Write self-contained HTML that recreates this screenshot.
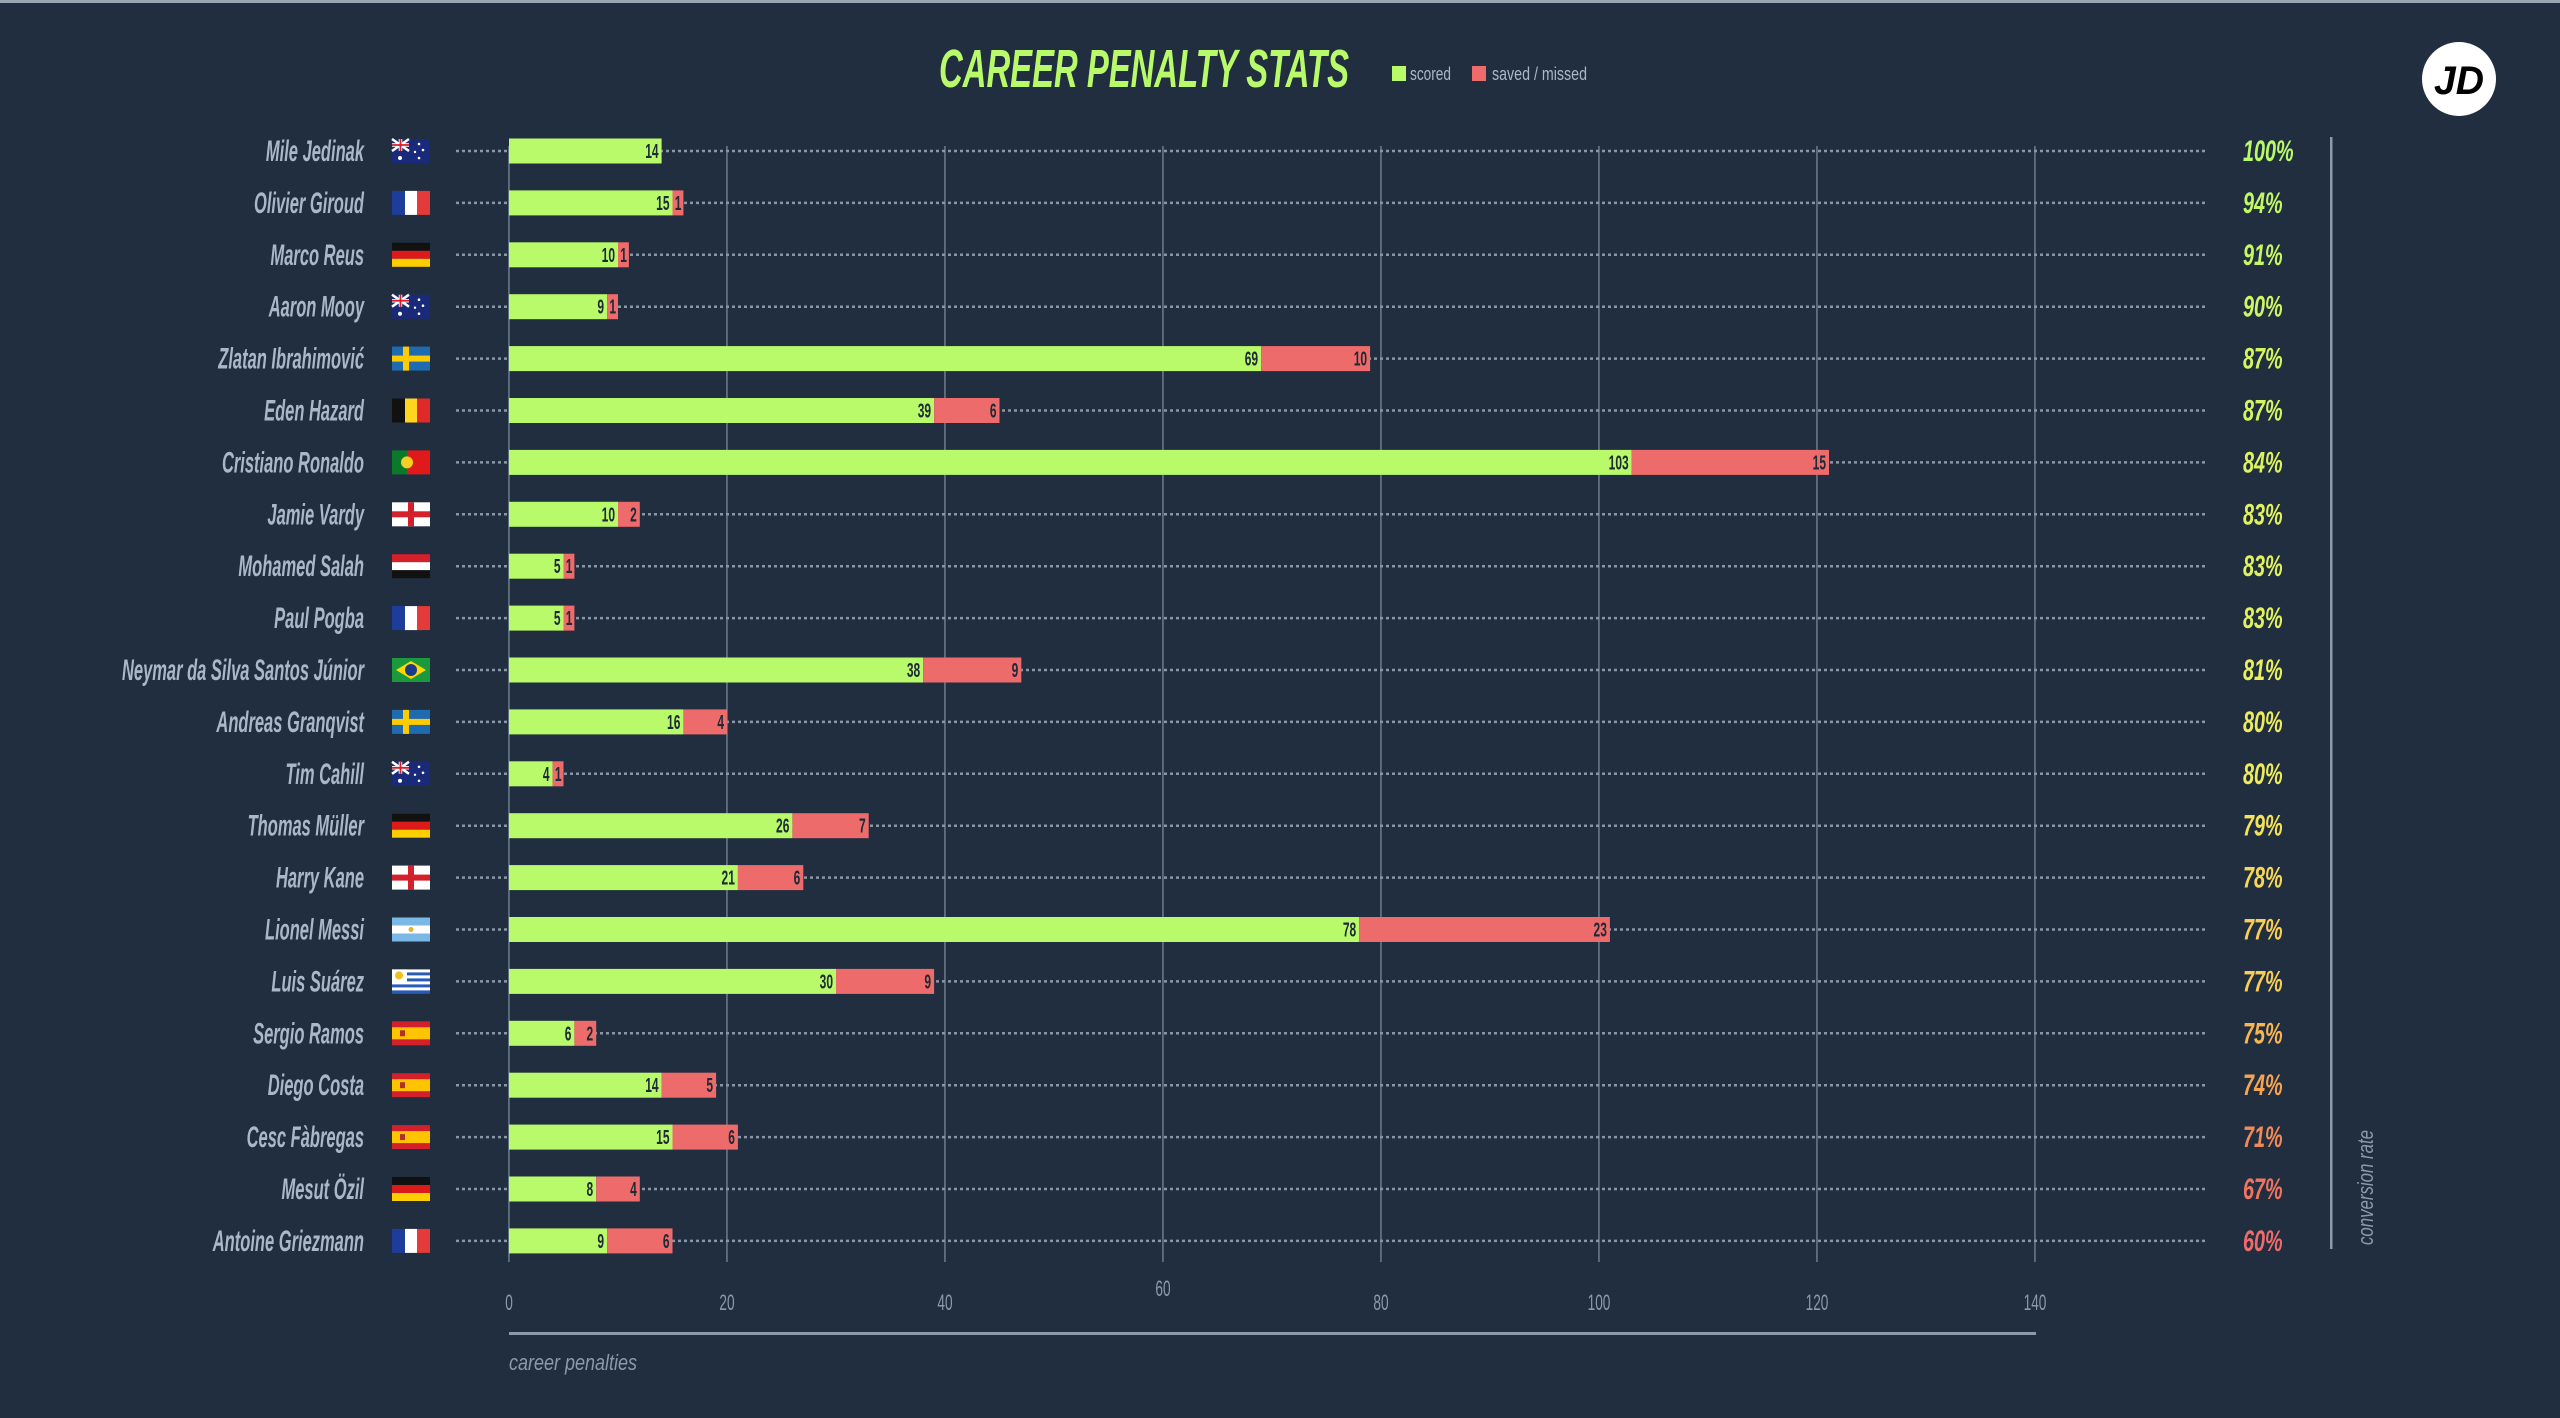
<!DOCTYPE html>
<html><head><meta charset="utf-8"><style>
html,body{margin:0;padding:0;background:#212e3f;}
svg{display:block}
.d{stroke:#8896a6;stroke-width:2.5;stroke-dasharray:3 3}
.g{fill:#b9fa6a}.r{fill:#ee6b6b}
.v{font-size:20px;font-weight:bold;fill:#1d2a37;text-anchor:end}
.n{font-size:30px;font-weight:bold;font-style:italic;fill:#a9b8c8;text-anchor:end}
.p{font-size:30px;font-weight:bold;font-style:italic}
.gl{fill:#6e7d8e}
.t{font-size:22px;fill:#8a9aab;text-anchor:middle}
</style></head><body>
<svg width="2560" height="1418" viewBox="0 0 2560 1418" xmlns="http://www.w3.org/2000/svg" xmlns:xlink="http://www.w3.org/1999/xlink" font-family="'Liberation Sans', sans-serif">
<defs>
<g id="fr"><rect width="13" height="24" fill="#1d3d9b"/><rect x="13" width="12" height="24" fill="#fff"/><rect x="25" width="13" height="24" fill="#e33a3a"/></g>
<g id="de"><rect width="38" height="8" fill="#111"/><rect y="8" width="38" height="8" fill="#dd1a1a"/><rect y="16" width="38" height="8" fill="#ffce00"/></g>
<g id="be"><rect width="13" height="24" fill="#111"/><rect x="13" width="12" height="24" fill="#ffd520"/><rect x="25" width="13" height="24" fill="#e02a2a"/></g>
<g id="se"><rect width="38" height="24" fill="#1e6bb0"/><rect x="11" width="6" height="24" fill="#fecb00"/><rect y="9" width="38" height="6" fill="#fecb00"/></g>
<g id="pt"><rect width="15" height="24" fill="#0a7a2a"/><rect x="15" width="23" height="24" fill="#e01a1a"/><circle cx="15" cy="12" r="6" fill="#f5d020"/></g>
<g id="en"><rect width="38" height="24" fill="#fff"/><rect x="16" width="6" height="24" fill="#d4202a"/><rect y="9" width="38" height="6" fill="#d4202a"/></g>
<g id="eg"><rect width="38" height="8" fill="#d4202a"/><rect y="8" width="38" height="8" fill="#fff"/><rect y="16" width="38" height="8" fill="#111"/></g>
<g id="es"><rect width="38" height="24" fill="#d4202a"/><rect y="6" width="38" height="12" fill="#ffc400"/><rect x="8" y="9" width="5" height="6" fill="#b0302a"/></g>
<g id="ar"><rect width="38" height="24" fill="#7ab8e8"/><rect y="8" width="38" height="8" fill="#fff"/><circle cx="19" cy="12" r="2.5" fill="#e8b030"/></g>
<g id="uy"><rect width="38" height="24" fill="#fff"/><rect y="3" width="38" height="3" fill="#2a5ab8"/><rect y="9" width="38" height="3" fill="#2a5ab8"/><rect y="15" width="38" height="3" fill="#2a5ab8"/><rect y="21" width="38" height="3" fill="#2a5ab8"/><rect width="15" height="13" fill="#fff"/><circle cx="7" cy="6" r="4" fill="#f0c020"/></g>
<g id="br"><rect width="38" height="24" fill="#1a9a3a"/><polygon points="4,12 19,3 34,12 19,21" fill="#ffd800"/><circle cx="19" cy="12" r="6" fill="#1a3a8a"/></g>
<g id="au"><rect width="38" height="24" fill="#1a2a7a"/><path d="M0 0L17 12M17 0L0 12" stroke="#fff" stroke-width="2.5"/><path d="M8.5 0V12M0 6H17" stroke="#fff" stroke-width="3.5"/><path d="M8.5 0V12M0 6H17" stroke="#d4202a" stroke-width="1.8"/><circle cx="8" cy="19" r="2" fill="#fff"/><circle cx="27" cy="5" r="1.3" fill="#fff"/><circle cx="31" cy="11" r="1.3" fill="#fff"/><circle cx="27" cy="19" r="1.3" fill="#fff"/><circle cx="23" cy="13" r="1.2" fill="#fff"/></g>
</defs>
<rect width="2560" height="1418" fill="#212e3f"/>
<rect width="2560" height="3" fill="#9aa6b2"/>
<!-- grid -->
<rect class="gl" x="508.2" y="146" width="1.5" height="1116"/>
<rect class="gl" x="726.2" y="146" width="1.5" height="1116"/>
<rect class="gl" x="944.2" y="146" width="1.5" height="1116"/>
<rect class="gl" x="1162.2" y="146" width="1.5" height="1116"/>
<rect class="gl" x="1380.2" y="146" width="1.5" height="1116"/>
<rect class="gl" x="1598.2" y="146" width="1.5" height="1116"/>
<rect class="gl" x="1816.2" y="146" width="1.5" height="1116"/>
<rect class="gl" x="2034.2" y="146" width="1.5" height="1116"/>
<g class="t">
<text transform="translate(509,1310) scale(.62,1)">0</text>
<text transform="translate(727,1310) scale(.62,1)">20</text>
<text transform="translate(945,1310) scale(.62,1)">40</text>
<text transform="translate(1163,1296) scale(.62,1)">60</text>
<text transform="translate(1381,1310) scale(.62,1)">80</text>
<text transform="translate(1599,1310) scale(.62,1)">100</text>
<text transform="translate(1817,1310) scale(.62,1)">120</text>
<text transform="translate(2035,1310) scale(.62,1)">140</text>
</g>

<g transform="translate(0,151)"><line class="d" x1="456" x2="2208" y1="0" y2="0"/><rect class="g" x="509" y="-12.5" width="152.6" height="25"/><text class="v" transform="translate(658.6,7) scale(.6,1)">14</text><text class="n" transform="translate(364,10) scale(.55,1)">Mile Jedinak</text><use xlink:href="#au" x="392" y="-12"/><text class="p" fill="#b9fa6a" transform="translate(2243,10) scale(.66,1)">100%</text></g>
<g transform="translate(0,202.9)"><line class="d" x1="456" x2="2208" y1="0" y2="0"/><rect class="g" x="509" y="-12.5" width="163.5" height="25"/><rect class="r" x="672.5" y="-12.5" width="10.9" height="25"/><text class="v" transform="translate(669.5,7) scale(.6,1)">15</text><text class="v" transform="translate(681.4,7) scale(.6,1)">1</text><text class="n" transform="translate(364,10) scale(.55,1)">Olivier Giroud</text><use xlink:href="#fr" x="392" y="-12"/><text class="p" fill="#c2f866" transform="translate(2243,10) scale(.66,1)">94%</text></g>
<g transform="translate(0,254.8)"><line class="d" x1="456" x2="2208" y1="0" y2="0"/><rect class="g" x="509" y="-12.5" width="109" height="25"/><rect class="r" x="618" y="-12.5" width="10.9" height="25"/><text class="v" transform="translate(615,7) scale(.6,1)">10</text><text class="v" transform="translate(626.9,7) scale(.6,1)">1</text><text class="n" transform="translate(364,10) scale(.55,1)">Marco Reus</text><use xlink:href="#de" x="392" y="-12"/><text class="p" fill="#c8f764" transform="translate(2243,10) scale(.66,1)">91%</text></g>
<g transform="translate(0,306.7)"><line class="d" x1="456" x2="2208" y1="0" y2="0"/><rect class="g" x="509" y="-12.5" width="98.1" height="25"/><rect class="r" x="607.1" y="-12.5" width="10.9" height="25"/><text class="v" transform="translate(604.1,7) scale(.6,1)">9</text><text class="v" transform="translate(616,7) scale(.6,1)">1</text><text class="n" transform="translate(364,10) scale(.55,1)">Aaron Mooy</text><use xlink:href="#au" x="392" y="-12"/><text class="p" fill="#ccf663" transform="translate(2243,10) scale(.66,1)">90%</text></g>
<g transform="translate(0,358.6)"><line class="d" x1="456" x2="2208" y1="0" y2="0"/><rect class="g" x="509" y="-12.5" width="752.1" height="25"/><rect class="r" x="1261.1" y="-12.5" width="109" height="25"/><text class="v" transform="translate(1258.1,7) scale(.6,1)">69</text><text class="v" transform="translate(1367.1,7) scale(.6,1)">10</text><text class="n" transform="translate(364,10) scale(.55,1)">Zlatan Ibrahimović</text><use xlink:href="#se" x="392" y="-12"/><text class="p" fill="#d4f460" transform="translate(2243,10) scale(.66,1)">87%</text></g>
<g transform="translate(0,410.5)"><line class="d" x1="456" x2="2208" y1="0" y2="0"/><rect class="g" x="509" y="-12.5" width="425.1" height="25"/><rect class="r" x="934.1" y="-12.5" width="65.4" height="25"/><text class="v" transform="translate(931.1,7) scale(.6,1)">39</text><text class="v" transform="translate(996.5,7) scale(.6,1)">6</text><text class="n" transform="translate(364,10) scale(.55,1)">Eden Hazard</text><use xlink:href="#be" x="392" y="-12"/><text class="p" fill="#d4f460" transform="translate(2243,10) scale(.66,1)">87%</text></g>
<g transform="translate(0,462.4)"><line class="d" x1="456" x2="2208" y1="0" y2="0"/><rect class="g" x="509" y="-12.5" width="1122.7" height="25"/><rect class="r" x="1631.7" y="-12.5" width="197.3" height="25"/><text class="v" transform="translate(1628.7,7) scale(.6,1)">103</text><text class="v" transform="translate(1826,7) scale(.6,1)">15</text><text class="n" transform="translate(364,10) scale(.55,1)">Cristiano Ronaldo</text><use xlink:href="#pt" x="392" y="-12"/><text class="p" fill="#dcf35e" transform="translate(2243,10) scale(.66,1)">84%</text></g>
<g transform="translate(0,514.3)"><line class="d" x1="456" x2="2208" y1="0" y2="0"/><rect class="g" x="509" y="-12.5" width="109" height="25"/><rect class="r" x="618" y="-12.5" width="21.8" height="25"/><text class="v" transform="translate(615,7) scale(.6,1)">10</text><text class="v" transform="translate(636.8,7) scale(.6,1)">2</text><text class="n" transform="translate(364,10) scale(.55,1)">Jamie Vardy</text><use xlink:href="#en" x="392" y="-12"/><text class="p" fill="#e0f25c" transform="translate(2243,10) scale(.66,1)">83%</text></g>
<g transform="translate(0,566.2)"><line class="d" x1="456" x2="2208" y1="0" y2="0"/><rect class="g" x="509" y="-12.5" width="54.5" height="25"/><rect class="r" x="563.5" y="-12.5" width="10.9" height="25"/><text class="v" transform="translate(560.5,7) scale(.6,1)">5</text><text class="v" transform="translate(572.4,7) scale(.6,1)">1</text><text class="n" transform="translate(364,10) scale(.55,1)">Mohamed Salah</text><use xlink:href="#eg" x="392" y="-12"/><text class="p" fill="#e0f25c" transform="translate(2243,10) scale(.66,1)">83%</text></g>
<g transform="translate(0,618.1)"><line class="d" x1="456" x2="2208" y1="0" y2="0"/><rect class="g" x="509" y="-12.5" width="54.5" height="25"/><rect class="r" x="563.5" y="-12.5" width="10.9" height="25"/><text class="v" transform="translate(560.5,7) scale(.6,1)">5</text><text class="v" transform="translate(572.4,7) scale(.6,1)">1</text><text class="n" transform="translate(364,10) scale(.55,1)">Paul Pogba</text><use xlink:href="#fr" x="392" y="-12"/><text class="p" fill="#e0f25c" transform="translate(2243,10) scale(.66,1)">83%</text></g>
<g transform="translate(0,670)"><line class="d" x1="456" x2="2208" y1="0" y2="0"/><rect class="g" x="509" y="-12.5" width="414.2" height="25"/><rect class="r" x="923.2" y="-12.5" width="98.1" height="25"/><text class="v" transform="translate(920.2,7) scale(.6,1)">38</text><text class="v" transform="translate(1018.3,7) scale(.6,1)">9</text><text class="n" transform="translate(364,10) scale(.55,1)">Neymar da Silva Santos Júnior</text><use xlink:href="#br" x="392" y="-12"/><text class="p" fill="#e8f05a" transform="translate(2243,10) scale(.66,1)">81%</text></g>
<g transform="translate(0,721.9)"><line class="d" x1="456" x2="2208" y1="0" y2="0"/><rect class="g" x="509" y="-12.5" width="174.4" height="25"/><rect class="r" x="683.4" y="-12.5" width="43.6" height="25"/><text class="v" transform="translate(680.4,7) scale(.6,1)">16</text><text class="v" transform="translate(724,7) scale(.6,1)">4</text><text class="n" transform="translate(364,10) scale(.55,1)">Andreas Granqvist</text><use xlink:href="#se" x="392" y="-12"/><text class="p" fill="#eeec5a" transform="translate(2243,10) scale(.66,1)">80%</text></g>
<g transform="translate(0,773.8)"><line class="d" x1="456" x2="2208" y1="0" y2="0"/><rect class="g" x="509" y="-12.5" width="43.6" height="25"/><rect class="r" x="552.6" y="-12.5" width="10.9" height="25"/><text class="v" transform="translate(549.6,7) scale(.6,1)">4</text><text class="v" transform="translate(561.5,7) scale(.6,1)">1</text><text class="n" transform="translate(364,10) scale(.55,1)">Tim Cahill</text><use xlink:href="#au" x="392" y="-12"/><text class="p" fill="#eeec5a" transform="translate(2243,10) scale(.66,1)">80%</text></g>
<g transform="translate(0,825.7)"><line class="d" x1="456" x2="2208" y1="0" y2="0"/><rect class="g" x="509" y="-12.5" width="283.4" height="25"/><rect class="r" x="792.4" y="-12.5" width="76.3" height="25"/><text class="v" transform="translate(789.4,7) scale(.6,1)">26</text><text class="v" transform="translate(865.7,7) scale(.6,1)">7</text><text class="n" transform="translate(364,10) scale(.55,1)">Thomas Müller</text><use xlink:href="#de" x="392" y="-12"/><text class="p" fill="#f4e258" transform="translate(2243,10) scale(.66,1)">79%</text></g>
<g transform="translate(0,877.6)"><line class="d" x1="456" x2="2208" y1="0" y2="0"/><rect class="g" x="509" y="-12.5" width="228.9" height="25"/><rect class="r" x="737.9" y="-12.5" width="65.4" height="25"/><text class="v" transform="translate(734.9,7) scale(.6,1)">21</text><text class="v" transform="translate(800.3,7) scale(.6,1)">6</text><text class="n" transform="translate(364,10) scale(.55,1)">Harry Kane</text><use xlink:href="#en" x="392" y="-12"/><text class="p" fill="#f6d856" transform="translate(2243,10) scale(.66,1)">78%</text></g>
<g transform="translate(0,929.5)"><line class="d" x1="456" x2="2208" y1="0" y2="0"/><rect class="g" x="509" y="-12.5" width="850.2" height="25"/><rect class="r" x="1359.2" y="-12.5" width="250.7" height="25"/><text class="v" transform="translate(1356.2,7) scale(.6,1)">78</text><text class="v" transform="translate(1606.9,7) scale(.6,1)">23</text><text class="n" transform="translate(364,10) scale(.55,1)">Lionel Messi</text><use xlink:href="#ar" x="392" y="-12"/><text class="p" fill="#f8ce54" transform="translate(2243,10) scale(.66,1)">77%</text></g>
<g transform="translate(0,981.4)"><line class="d" x1="456" x2="2208" y1="0" y2="0"/><rect class="g" x="509" y="-12.5" width="327" height="25"/><rect class="r" x="836" y="-12.5" width="98.1" height="25"/><text class="v" transform="translate(833,7) scale(.6,1)">30</text><text class="v" transform="translate(931.1,7) scale(.6,1)">9</text><text class="n" transform="translate(364,10) scale(.55,1)">Luis Suárez</text><use xlink:href="#uy" x="392" y="-12"/><text class="p" fill="#f8ce54" transform="translate(2243,10) scale(.66,1)">77%</text></g>
<g transform="translate(0,1033.3)"><line class="d" x1="456" x2="2208" y1="0" y2="0"/><rect class="g" x="509" y="-12.5" width="65.4" height="25"/><rect class="r" x="574.4" y="-12.5" width="21.8" height="25"/><text class="v" transform="translate(571.4,7) scale(.6,1)">6</text><text class="v" transform="translate(593.2,7) scale(.6,1)">2</text><text class="n" transform="translate(364,10) scale(.55,1)">Sergio Ramos</text><use xlink:href="#es" x="392" y="-12"/><text class="p" fill="#f8b652" transform="translate(2243,10) scale(.66,1)">75%</text></g>
<g transform="translate(0,1085.2)"><line class="d" x1="456" x2="2208" y1="0" y2="0"/><rect class="g" x="509" y="-12.5" width="152.6" height="25"/><rect class="r" x="661.6" y="-12.5" width="54.5" height="25"/><text class="v" transform="translate(658.6,7) scale(.6,1)">14</text><text class="v" transform="translate(713.1,7) scale(.6,1)">5</text><text class="n" transform="translate(364,10) scale(.55,1)">Diego Costa</text><use xlink:href="#es" x="392" y="-12"/><text class="p" fill="#f6a452" transform="translate(2243,10) scale(.66,1)">74%</text></g>
<g transform="translate(0,1137.1)"><line class="d" x1="456" x2="2208" y1="0" y2="0"/><rect class="g" x="509" y="-12.5" width="163.5" height="25"/><rect class="r" x="672.5" y="-12.5" width="65.4" height="25"/><text class="v" transform="translate(669.5,7) scale(.6,1)">15</text><text class="v" transform="translate(734.9,7) scale(.6,1)">6</text><text class="n" transform="translate(364,10) scale(.55,1)">Cesc Fàbregas</text><use xlink:href="#es" x="392" y="-12"/><text class="p" fill="#f28a58" transform="translate(2243,10) scale(.66,1)">71%</text></g>
<g transform="translate(0,1189)"><line class="d" x1="456" x2="2208" y1="0" y2="0"/><rect class="g" x="509" y="-12.5" width="87.2" height="25"/><rect class="r" x="596.2" y="-12.5" width="43.6" height="25"/><text class="v" transform="translate(593.2,7) scale(.6,1)">8</text><text class="v" transform="translate(636.8,7) scale(.6,1)">4</text><text class="n" transform="translate(364,10) scale(.55,1)">Mesut Özil</text><use xlink:href="#de" x="392" y="-12"/><text class="p" fill="#ef7560" transform="translate(2243,10) scale(.66,1)">67%</text></g>
<g transform="translate(0,1240.9)"><line class="d" x1="456" x2="2208" y1="0" y2="0"/><rect class="g" x="509" y="-12.5" width="98.1" height="25"/><rect class="r" x="607.1" y="-12.5" width="65.4" height="25"/><text class="v" transform="translate(604.1,7) scale(.6,1)">9</text><text class="v" transform="translate(669.5,7) scale(.6,1)">6</text><text class="n" transform="translate(364,10) scale(.55,1)">Antoine Griezmann</text><use xlink:href="#fr" x="392" y="-12"/><text class="p" fill="#ee6b6b" transform="translate(2243,10) scale(.66,1)">60%</text></g>

<!-- title -->
<text x="939" y="87" font-size="54" font-weight="bold" font-style="italic" fill="#b9fa6a" textLength="410" lengthAdjust="spacingAndGlyphs">CAREER PENALTY STATS</text>
<rect x="1392" y="66" width="14" height="15" fill="#b9fa6a"/>
<text x="1410" y="80" font-size="18" fill="#a9b8c8" textLength="41" lengthAdjust="spacingAndGlyphs">scored</text>
<rect x="1472" y="66" width="14" height="15" fill="#ee6b6b"/>
<text x="1492" y="80" font-size="18" fill="#a9b8c8" textLength="95" lengthAdjust="spacingAndGlyphs">saved / missed</text>
<!-- JD logo -->
<circle cx="2459" cy="79" r="37" fill="#fff"/>
<text x="2459" y="94" text-anchor="middle" font-size="40" font-weight="bold" font-style="italic" fill="#000" textLength="50" lengthAdjust="spacingAndGlyphs">JD</text>
<!-- right line -->
<rect x="2330" y="137" width="2.5" height="1112" fill="#8a9aab"/>
<text transform="translate(2373,1245) rotate(-90)" font-size="22" font-style="italic" fill="#8a9aab" textLength="115" lengthAdjust="spacingAndGlyphs">conversion rate</text>
<!-- axis -->
<rect x="509" y="1332" width="1527" height="3" fill="#8a9aab"/>
<text x="509" y="1370" font-size="22" font-style="italic" fill="#8a9aab" textLength="128" lengthAdjust="spacingAndGlyphs">career penalties</text>
</svg>
</body></html>
